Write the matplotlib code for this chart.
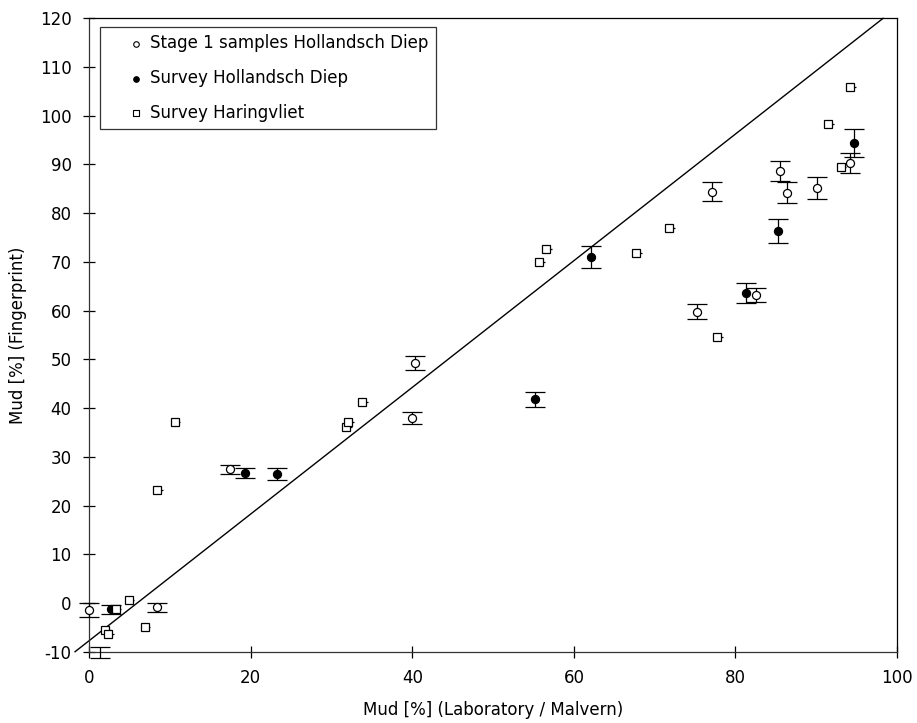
import numpy as np
import matplotlib
matplotlib.use("Agg")
import matplotlib.pyplot as plt

plt.rcParams['font.family'] = ['DejaVu Sans']
plt.rcParams['axes.unicode_minus'] = False

# Stage 1 samples Hollandsch Diep (open circles, y error)
stage1_x = [0.0, 8.4, 17.4, 40.3, 40.0, 75.2, 82.5, 77.1, 85.5, 86.4, 90.1, 94.2]
stage1_y = [-1.4, -0.9, 27.4, 49.3, 38.0, 59.8, 63.2, 84.4, 88.7, 84.2, 85.2, 90.3]
stage1_err = [1.4, 1.0, 1.0, 1.4, 1.2, 1.6, 1.4, 2.0, 2.1, 2.1, 2.3, 2.1]

# Survey Hollandsch Diep (filled circles, y error)
survey_hd_x = [2.7, 19.3, 23.3, 55.2, 62.1, 81.3, 85.2, 94.7]
survey_hd_y = [-1.3, 26.7, 26.5, 41.8, 71.0, 63.6, 76.4, 94.4]
survey_hd_err = [0.9, 1.1, 1.2, 1.5, 2.2, 2.0, 2.5, 2.9]

# point just below the axis: only its error bar shows
below_x = [1.4]
below_y = [-10.1]
below_err = [1.1]

# Survey Haringvliet (open squares, small x error)
haring_x = [2.0, 2.4, 3.3, 4.9, 6.9, 8.4, 10.6, 31.8, 32.1, 33.8,
            55.7, 56.6, 67.7, 71.8, 77.7, 91.5, 93.0, 94.2]
haring_y = [-5.5, -6.4, -1.3, 0.55, -4.9, 23.2, 37.2, 36.2, 37.2, 41.3,
            70.0, 72.6, 71.8, 76.9, 54.6, 98.3, 89.5, 105.9]
haring_xerr = 0.7

# regression line
fit_slope = 1.30
fit_intercept = -7.75

x_ticks = [0, 20, 40, 60, 80, 100]
y_ticks = list(range(-10, 121, 10))

fig = plt.figure(figsize=(9.17, 7.23), dpi=100)
ax = fig.add_axes([0.0971, 0.0986, 0.8812, 0.8761])

ylo, yhi = -10, 120
lx = np.array([(ylo - fit_intercept) / fit_slope, (yhi - fit_intercept) / fit_slope])
ax.plot(lx, fit_slope * lx + fit_intercept, color='black', lw=1.0, clip_on=False, zorder=2)

ekw = dict(ecolor='black', elinewidth=0.9, capsize=7, capthick=0.9, clip_on=False)

ax.errorbar(below_x, below_y, yerr=below_err, fmt='none', zorder=3, **ekw)

ax.errorbar(stage1_x, stage1_y, yerr=stage1_err, fmt='o', ms=5.8, mfc='white',
            mec='black', mew=0.9, zorder=4, **ekw)
ax.errorbar(survey_hd_x, survey_hd_y, yerr=survey_hd_err, fmt='o', ms=5.8, mfc='black',
            mec='black', mew=0.9, zorder=4, **ekw)
ax.errorbar(haring_x, haring_y, xerr=[[0] * len(haring_x), [haring_xerr] * len(haring_x)],
            fmt='s', ms=5.3, mfc='white', mec='black', mew=0.9, zorder=5,
            ecolor='black', elinewidth=0.9, capsize=0, clip_on=False)

ax.set_xlim(0, 100)
ax.set_ylim(ylo, yhi)
ax.set_xticks(x_ticks)
ax.set_yticks(y_ticks)
ax.tick_params(direction='inout', length=9, width=0.9, labelsize=12,
               top=False, right=False)
ax.tick_params(axis='x', pad=8)
ax.tick_params(axis='y', pad=8)
for s in ax.spines.values():
    s.set_linewidth(0.9)
ax.spines['left'].set_color('#333333')
ax.spines['bottom'].set_color('#333333')

ax.set_xlabel('Mud [%] (Laboratory / Malvern)', fontsize=12, labelpad=10)
ax.set_ylabel('Mud [%] (Fingerprint)', fontsize=12, labelpad=9)

# legend handles
h1 = ax.scatter([], [], marker='o', s=16, facecolor='white', edgecolor='black', lw=0.8)
h2 = ax.scatter([], [], marker='o', s=16, facecolor='black', edgecolor='black', lw=0.8)
h3 = ax.scatter([], [], marker='s', s=16, facecolor='white', edgecolor='black', lw=0.8)
leg = ax.legend([h1, h2, h3],
                ['Stage 1 samples Hollandsch Diep', 'Survey Hollandsch Diep', 'Survey Haringvliet'],
                loc='upper left', bbox_to_anchor=(0.0136, 0.9867), borderaxespad=0,
                fontsize=12, frameon=True, fancybox=False, edgecolor='black',
                handlelength=3.39, handletextpad=-0.86, labelspacing=1.0,
                borderpad=0.45, scatterpoints=1)
leg.get_frame().set_linewidth(0.9)

fig.savefig('out.png', dpi=100)
